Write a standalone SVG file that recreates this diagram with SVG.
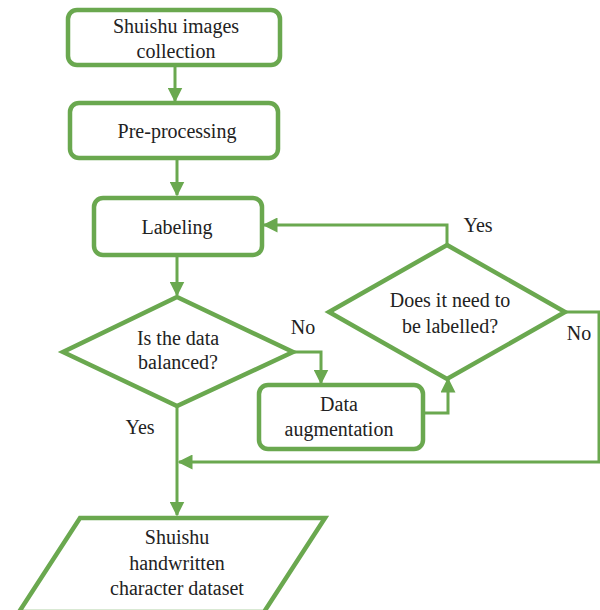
<svg xmlns="http://www.w3.org/2000/svg" width="600" height="610" viewBox="0 0 600 610">
<style>
.n{fill:#fff;stroke:#6aa84f;stroke-width:4.5;stroke-linejoin:miter}
.c{fill:none;stroke:#6aa84f;stroke-width:3}
.t{font-family:'Liberation Serif','DejaVu Serif',serif;font-size:20px;fill:#222;text-anchor:middle}
</style>
<defs>
<marker id="ah" viewBox="0 0 10 10" refX="9" refY="5" markerWidth="5" markerHeight="5" orient="auto" markerUnits="strokeWidth">
<path d="M0,0L10,5L0,10z" fill="#6aa84f"/>
</marker>
</defs>
<g id="connectors">
<path class="c" d="M175,65V101" marker-end="url(#ah)"/>
<path class="c" d="M177,158V195" marker-end="url(#ah)"/>
<path class="c" d="M177,256V295" marker-end="url(#ah)"/>
<path class="c" d="M293,352H321V383" marker-end="url(#ah)"/>
<path class="c" d="M423,413H448V379" marker-end="url(#ah)"/>
<path class="c" d="M447,245V225H264" marker-end="url(#ah)"/>
<path class="c" d="M565,312H599V462H179" marker-end="url(#ah)"/>
<path class="c" d="M177,406V515" marker-end="url(#ah)"/>
</g>
<g class="t" font-family="Liberation Serif, DejaVu Serif, serif">
<g id="collection">
<rect class="n" x="68" y="10" width="212" height="55" rx="9"/>
<text x="176" y="33">Shuishu images</text>
<text x="176" y="58">collection</text>
</g>
<g id="preprocessing">
<rect class="n" x="70" y="103" width="208" height="55" rx="9"/>
<text x="177" y="138">Pre-processing</text>
</g>
<g id="labeling">
<rect class="n" x="94" y="198" width="168" height="57" rx="9"/>
<text x="177" y="234">Labeling</text>
</g>
<g id="balanced">
<polygon class="n" points="177,297 293,352 177,406 63,352"/>
<text x="178" y="345">Is the data</text>
<text x="178" y="369">balanced?</text>
</g>
<g id="augmentation">
<rect class="n" x="259" y="385" width="164" height="64" rx="9"/>
<text x="339" y="411">Data</text>
<text x="339" y="436">augmentation</text>
</g>
<g id="need-label">
<polygon class="n" points="447,245 565,312 447,379 329,312"/>
<text x="450" y="307">Does it need to</text>
<text x="450" y="333">be labelled?</text>
</g>
<g id="dataset">
<polygon class="n" points="80,518 325,518 264,612 19,612"/>
<text x="177" y="544">Shuishu</text>
<text x="177" y="570">handwritten</text>
<text x="177" y="595">character dataset</text>
</g>
<g id="labels">
<text x="303" y="334">No</text>
<text x="478" y="232">Yes</text>
<text x="579" y="340">No</text>
<text x="140" y="434">Yes</text>
</g>
</g>
</svg>
